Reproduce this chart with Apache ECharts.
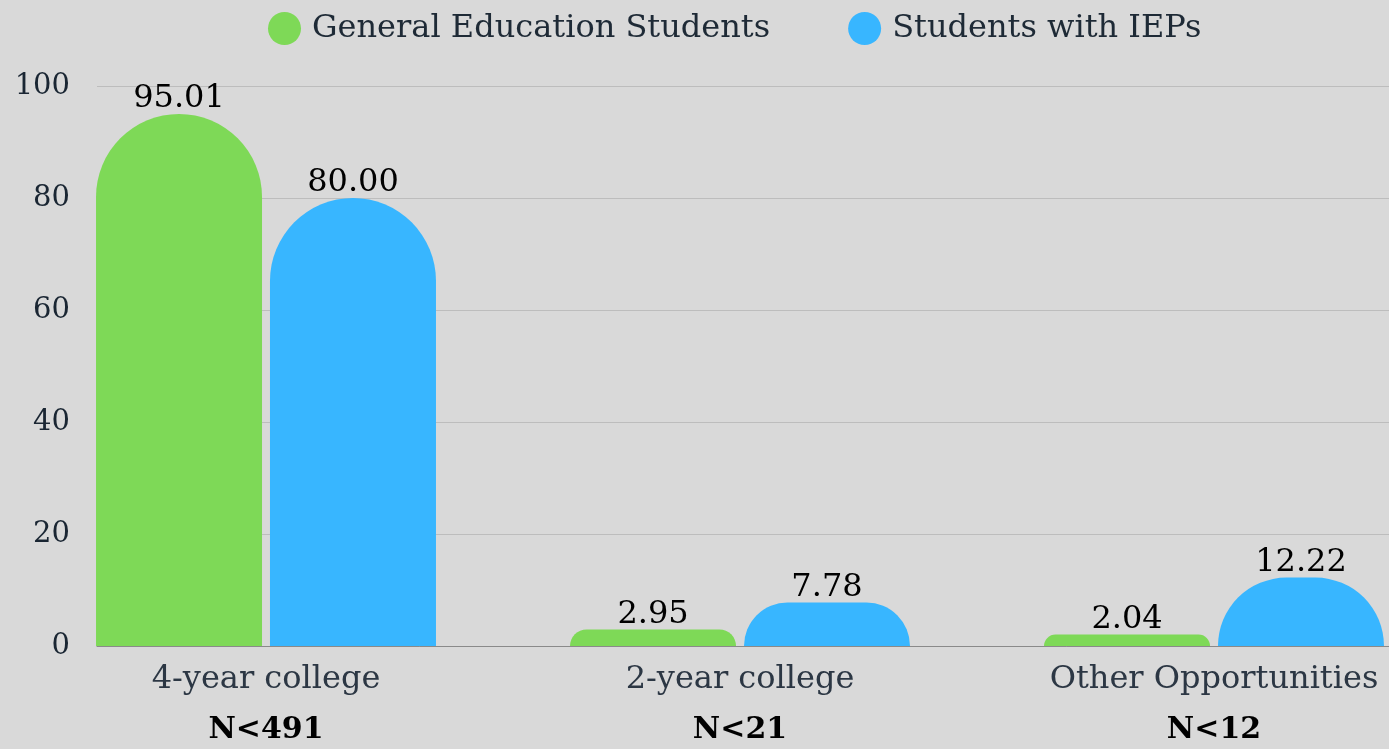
<!DOCTYPE html>
<html>
<head>
<meta charset="utf-8">
<script src="https://cdn.jsdelivr.net/npm/echarts@6/dist/echarts.min.js"></script>
<style>
html,body{margin:0;padding:0;background:#d9d9d9;}
#chart{width:1389px;height:749px;}
</style>
</head>
<body>
<div id="chart"></div>
<script>
const categories = ['4-year college', '2-year college', 'Other Opportunities'];
const sampleSizes = ['N<491', 'N<21', 'N<12'];
const generalEd = [95.01, 2.95, 2.04];
const iepStudents = [80.00, 7.78, 12.22];
const yTicks = [0, 20, 40, 60, 80, 100];

const chart = echarts.init(document.getElementById('chart'));
const serif = '"DejaVu Serif", serif';
const valueLabel = {
  show: true, position: 'top', distance: -1,
  fontFamily: serif, fontSize: 32, color: '#000',
  formatter: p => p.value.toFixed(2)
};
chart.setOption({
  backgroundColor: '#d9d9d9',
  animation: false,
  legend: {
    top: 7, left: 263,
    icon: 'circle', itemWidth: 33, itemHeight: 33, itemGap: 78,
    textStyle: { fontFamily: serif, fontSize: 32, color: '#1e2a36', padding: [0, 0, 0, 6] },
    data: ['General Education Students', 'Students with IEPs']
  },
  grid: [
    { left: 29, top: 86, right: -62, height: 560, outerBoundsMode: 'none', containLabel: false },
    { left: 97, top: 86, right: 0, height: 560, outerBoundsMode: 'none', containLabel: false }
  ],
  xAxis: [
    {
      type: 'category', gridIndex: 0, data: categories,
      axisLine: { show: false }, axisTick: { show: false },
      axisLabel: {
        margin: 9,
        formatter: (v, i) => '{a|' + v + '}\n{b|' + sampleSizes[i] + '}',
        rich: {
          a: { fontFamily: serif, fontSize: 32, color: '#2c3744', lineHeight: 50 },
          b: { fontFamily: serif, fontSize: 30, fontWeight: 'bold', color: '#000', lineHeight: 50 }
        }
      }
    },
    {
      type: 'category', gridIndex: 1, data: categories,
      axisLine: { show: true, lineStyle: { color: '#8a8a8a', width: 1 } },
      axisTick: { show: false }, axisLabel: { show: false }
    }
  ],
  yAxis: [
    {
      type: 'value', gridIndex: 0, min: yTicks[0], max: yTicks[yTicks.length - 1], interval: 20,
      axisLabel: { show: false }, splitLine: { show: false }, axisLine: { show: false }
    },
    {
      type: 'value', gridIndex: 1, min: yTicks[0], max: yTicks[yTicks.length - 1], interval: 20,
      axisLine: { show: false }, axisTick: { show: false },
      axisLabel: { margin: 27, fontFamily: serif, fontSize: 29, color: '#1a2633' },
      splitLine: { lineStyle: { color: '#bdbdbd', width: 1 } }
    }
  ],
  series: [
    {
      name: 'General Education Students', type: 'bar', xAxisIndex: 0, yAxisIndex: 0,
      data: generalEd, barWidth: 166, barGap: '4.8%', clip: false,
      itemStyle: { color: '#7ed957', borderRadius: [83, 83, 0, 0] },
      label: valueLabel
    },
    {
      name: 'Students with IEPs', type: 'bar', xAxisIndex: 0, yAxisIndex: 0,
      data: iepStudents, barWidth: 166, barGap: '4.8%', clip: false,
      itemStyle: { color: '#38b6ff', borderRadius: [83, 83, 0, 0] },
      label: valueLabel
    }
  ]
});
</script>
</body>
</html>
